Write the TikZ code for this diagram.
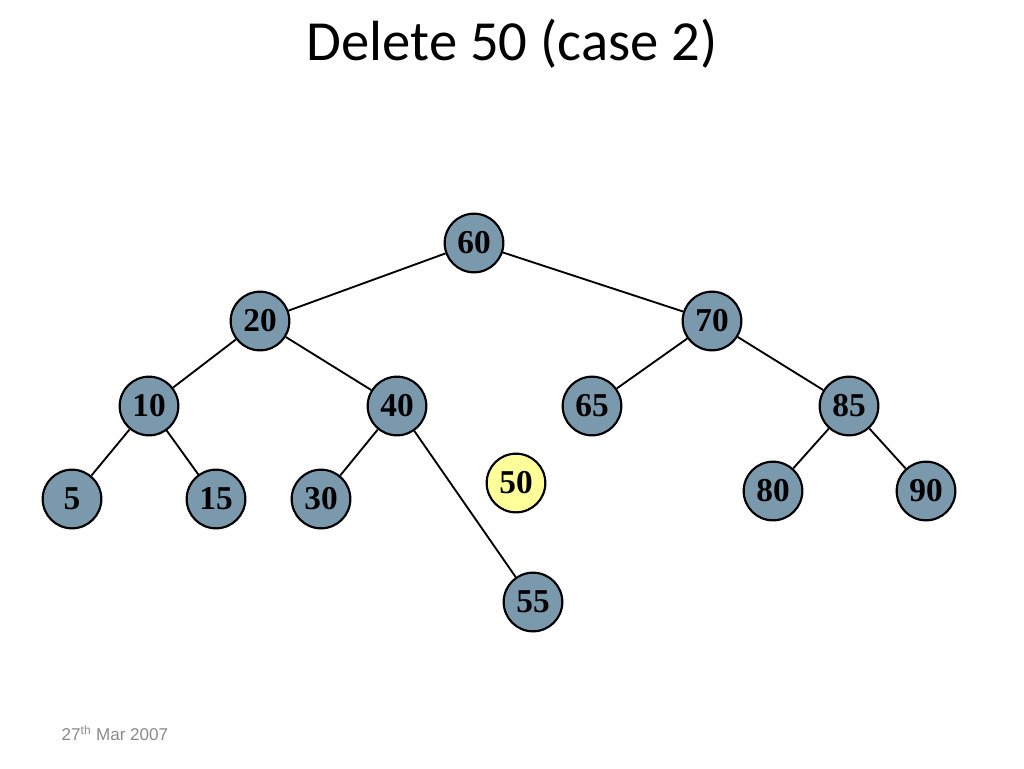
\documentclass[tikz,border=0pt]{standalone}
\usepackage{fontspec}
\setmainfont{Liberation Serif}
\newfontfamily\titlefont{Carlito}
\newfontfamily\footfont{Liberation Sans}
\usepackage{tikz}

\definecolor{keyblue}{RGB}{122,153,172}
\definecolor{keyyellow}{RGB}{255,255,153}
\definecolor{footgray}{RGB}{137,137,137}

\tikzset{
  key/.style={circle, draw=black, line width=1.6pt, fill=keyblue,
    minimum size=44pt, inner sep=0pt, font=\bfseries\fontsize{25}{25}\selectfont},
  gone/.style={key, fill=keyyellow},
  branch/.style={line width=1.4pt}
}

\begin{document}
\begin{tikzpicture}[x=0.75pt,y=-0.75pt]

\useasboundingbox (0,0) rectangle (1024,768);

\node[font=\titlefont\fontsize{42.5}{42.5}\selectfont] (title)
  at (512,44) {Delete 50 (case 2)};

\node[key] (k60) at (474,243) {60};
\node[key] (k20) at (260,321) {20};
\node[key] (k70) at (712,321) {70};
\node[key] (k10) at (149,406) {10};
\node[key] (k40) at (397,406) {40};
\node[key] (k65) at (592,406) {65};
\node[key] (k85) at (849,406) {85};
\node[key] (k5)  at (72,499)  {5};
\node[key] (k15) at (216,499) {15};
\node[key] (k30) at (321,499) {30};
\node[gone] (k50) at (516,483) {50};
\node[key] (k80) at (773,491) {80};
\node[key] (k90) at (926,491) {90};
\node[key] (k55) at (533,602) {55};

\draw[branch]
  (k60) -- (k20)
  (k60) -- (k70)
  (k20) -- (k10)
  (k20) -- (k40)
  (k70) -- (k65)
  (k70) -- (k85)
  (k10) -- (k5)
  (k10) -- (k15)
  (k40) -- (k30)
  (k40) -- (k55)
  (k85) -- (k80)
  (k85) -- (k90);

\node[anchor=west, text=footgray, font=\footfont\fontsize{12.8}{12.8}\selectfont]
  (date) at (57,733) {27\textsuperscript{th} Mar 2007};

\end{tikzpicture}
\end{document}
